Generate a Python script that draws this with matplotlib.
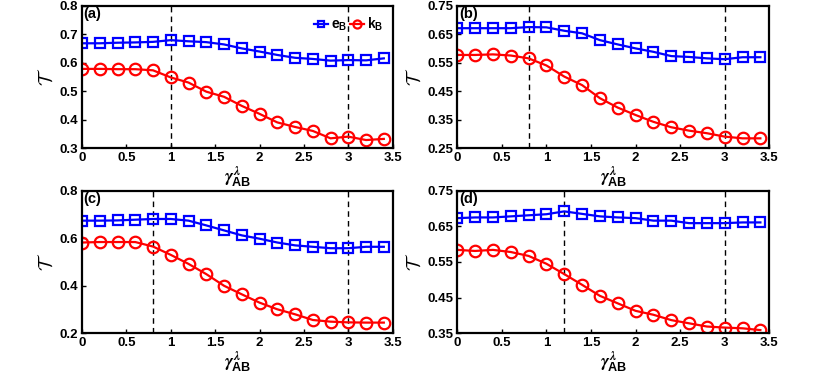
import numpy as np
import matplotlib
matplotlib.use('Agg')
import matplotlib.pyplot as plt

plt.rcParams['font.family'] = ['Liberation Sans', 'DejaVu Sans']
plt.rcParams['font.weight'] = 'bold'
plt.rcParams['mathtext.fontset'] = 'custom'
plt.rcParams['mathtext.it'] = 'STIXGeneral:italic'
plt.rcParams['mathtext.rm'] = 'STIXGeneral'
plt.rcParams['mathtext.bf'] = 'Liberation Sans:bold'

x = np.arange(18) * 0.2

# panel (a)
eB_a = [0.669, 0.669, 0.671, 0.672, 0.674, 0.680, 0.676, 0.673, 0.665, 0.651,
        0.640, 0.628, 0.618, 0.614, 0.608, 0.610, 0.609, 0.616]
kB_a = [0.579, 0.579, 0.578, 0.578, 0.574, 0.549, 0.531, 0.499, 0.481, 0.449,
        0.421, 0.391, 0.375, 0.361, 0.335, 0.341, 0.329, 0.333]
# panel (b)
eB_b = [0.672, 0.672, 0.672, 0.672, 0.676, 0.675, 0.663, 0.654, 0.630, 0.615,
        0.601, 0.589, 0.574, 0.571, 0.566, 0.563, 0.570, 0.570]
kB_b = [0.578, 0.578, 0.580, 0.576, 0.566, 0.541, 0.502, 0.472, 0.426, 0.393,
        0.367, 0.343, 0.324, 0.312, 0.303, 0.291, 0.285, 0.285]
# panel (c)
eB_c = [0.674, 0.674, 0.675, 0.678, 0.681, 0.681, 0.674, 0.654, 0.633, 0.612,
        0.598, 0.582, 0.570, 0.564, 0.558, 0.558, 0.564, 0.564]
kB_c = [0.582, 0.584, 0.584, 0.584, 0.565, 0.530, 0.492, 0.449, 0.400, 0.364,
        0.329, 0.301, 0.280, 0.256, 0.249, 0.246, 0.245, 0.245]
# panel (d)
eB_d = [0.673, 0.675, 0.675, 0.678, 0.681, 0.684, 0.692, 0.685, 0.678, 0.675,
        0.673, 0.666, 0.666, 0.659, 0.659, 0.659, 0.661, 0.661]
kB_d = [0.584, 0.581, 0.584, 0.578, 0.567, 0.545, 0.516, 0.486, 0.455, 0.434,
        0.413, 0.402, 0.387, 0.378, 0.369, 0.366, 0.364, 0.359]

panels = [
    ('(a)', eB_a, kB_a, (0.3, 0.8), [0.3, 0.4, 0.5, 0.6, 0.7, 0.8], [1.0, 3.0]),
    ('(b)', eB_b, kB_b, (0.25, 0.75), [0.25, 0.35, 0.45, 0.55, 0.65, 0.75], [0.8, 3.0]),
    ('(c)', eB_c, kB_c, (0.2, 0.8), [0.2, 0.4, 0.6, 0.8], [0.8, 3.0]),
    ('(d)', eB_d, kB_d, (0.35, 0.75), [0.35, 0.45, 0.55, 0.65, 0.75], [1.2, 3.0]),
]

W, H = 817, 375
boxes = [(82, 6, 392.7, 148.3), (457.3, 6, 769.3, 148.3),
         (82, 190.7, 392.7, 333.3), (457.3, 190.7, 769.3, 333.3)]

fig = plt.figure(figsize=(W / 100, H / 100), dpi=100)

for (lab, eb, kb, ylim, yt, vl), (l, t, r, b) in zip(panels, boxes):
    ax = fig.add_axes([l / W, 1 - b / H, (r - l) / W, (b - t) / H])
    for v in vl:
        ax.axvline(v, color='k', ls=(0, (4, 3)), lw=1.0)
    ax.plot(x, eb, '-s', color='#0000ff', lw=1.6, ms=7, mfc='none', mew=1.6,
            label=r'$\mathbf{e_B}$')
    ax.plot(x, kb, '-o', color='#ff0000', lw=1.6, ms=8.3, mfc='none', mew=1.6,
            label=r'$\mathbf{k_B}$')
    ax.set_xlim(0, 3.5)
    ax.set_ylim(*ylim)
    ax.set_xticks([0, 0.5, 1, 1.5, 2, 2.5, 3, 3.5])
    ax.set_xticklabels(['0', '0.5', '1', '1.5', '2', '2.5', '3', '3.5'])
    ax.set_yticks(yt)
    ax.set_yticklabels([f'{v:g}' for v in yt])
    ax.tick_params(direction='in', length=3, width=1, labelsize=9.5, pad=3)
    for s in ax.spines.values():
        s.set_linewidth(1.6)
    ax.text(0.005, 0.99, lab, transform=ax.transAxes, ha='left', va='top',
            fontsize=10.5, fontweight='bold')
    ax.set_ylabel(r'$\mathcal{T}$', fontsize=14, math_fontfamily='cm', labelpad=2)
    ax.set_xlabel(r'$\gamma^{\lambda}_{\mathbf{AB}}$', fontsize=13,
                  fontweight='normal', labelpad=0)
    if lab == '(a)':
        ax.legend(loc='upper right', ncol=2, frameon=False, handlelength=1.0,
                  handletextpad=0.2, columnspacing=0.2,
                  borderaxespad=0.3, markerscale=0.7,
                  prop={'size': 10})

fig.savefig('out.png', dpi=100)
